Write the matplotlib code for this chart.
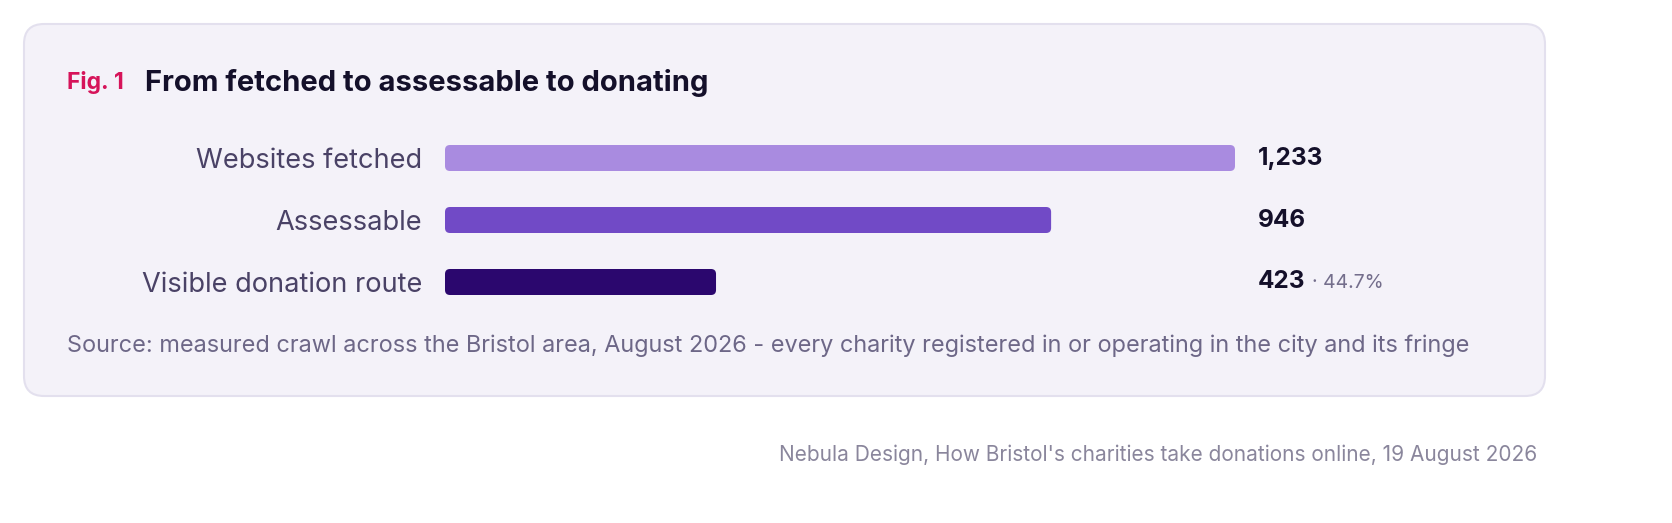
"""Funnel bars: websites fetched -> assessable -> visible donation route."""

import matplotlib

matplotlib.use("Agg")
import matplotlib.pyplot as plt
from matplotlib.patches import FancyBboxPatch

W, H, DPI = 1672, 523, 100
FONT = ["Inter", "DejaVu Sans"]

categories = ["Websites fetched", "Assessable", "Visible donation route"]
values = [1233, 946, 423]
value_labels = ["1,233", "946", "423"]
share_note = ["", "", "\u00b7 44.7%"]
bar_colors = ["#a98be0", "#714ac6", "#2b076e"]

title_tag = "Fig. 1"
title = "From fetched to assessable to donating"
source = ("Source: measured crawl across the Bristol area, August 2026 - every charity "
          "registered in or operating in the city and its fringe")
credit = "Nebula Design, How Bristol's charities take donations online, 19 August 2026"

plt.rcParams["font.family"] = FONT

fig = plt.figure(figsize=(W / DPI, H / DPI), dpi=DPI)
fig.patch.set_facecolor("white")

# background axes in pixel coords for the card and free text
bg = fig.add_axes([0, 0, 1, 1])
bg.set_xlim(0, W)
bg.set_ylim(H, 0)
bg.axis("off")
card = FancyBboxPatch((24, 24), 1521, 372, boxstyle="round,pad=0,rounding_size=20",
                      facecolor="#f4f2f9", edgecolor="#e3e0ee", linewidth=1.5)
bg.add_patch(card)
bg.text(67, 83, title_tag, fontsize=16.5, fontweight="bold", color="#d6145a", va="center")
bg.text(145, 83, title, fontsize=21, fontweight="bold", color="#14102a", va="center")
bg.text(67, 346, source, fontsize=16.9, color="#6d6787", va="center")
bg.text(1537, 455, credit, fontsize=15, color="#8a869c", va="center", ha="right")

# bar axes: x 445..1235 px, rows centred at 158/220/282 px
x0, x1 = 445, 1235
row_top, row_bot = 127, 313
ax = fig.add_axes([x0 / W, 1 - row_bot / H, (x1 - x0) / W, (row_bot - row_top) / H])
ax.set_xlim(0, max(values))
ax.set_ylim(len(values) - 0.5, -0.5)
ax.set_facecolor("none")
for s in ax.spines.values():
    s.set_visible(False)

bar_h = 26 / 62
px_x = max(values) / (x1 - x0)
px_y = 1 / 62
for i, (v, c) in enumerate(zip(values, bar_colors)):
    ax.add_patch(FancyBboxPatch((0, i - bar_h / 2), v, bar_h,
                                boxstyle=f"round,pad=0,rounding_size={5 * px_x}",
                                mutation_aspect=px_y / px_x,
                                facecolor=c, edgecolor="none"))
    t = ax.text((1258 - x0) / (x1 - x0), i, value_labels[i], transform=ax.get_yaxis_transform(),
                fontsize=17.5, fontweight="bold", color="#14102a", va="center")
    if share_note[i]:
        ax.annotate(share_note[i], xy=(1, 0.5), xycoords=t, xytext=(5, -1),
                    textcoords="offset points", fontsize=14, color="#746e8c",
                    va="center")

ax.set_yticks(range(len(categories)))
ax.set_yticklabels(categories, fontsize=19.6, color="#4a4266")
ax.tick_params(axis="y", length=0, pad=16.5)
ax.set_xticks([])

fig.savefig("out.png", dpi=DPI, facecolor="white")
